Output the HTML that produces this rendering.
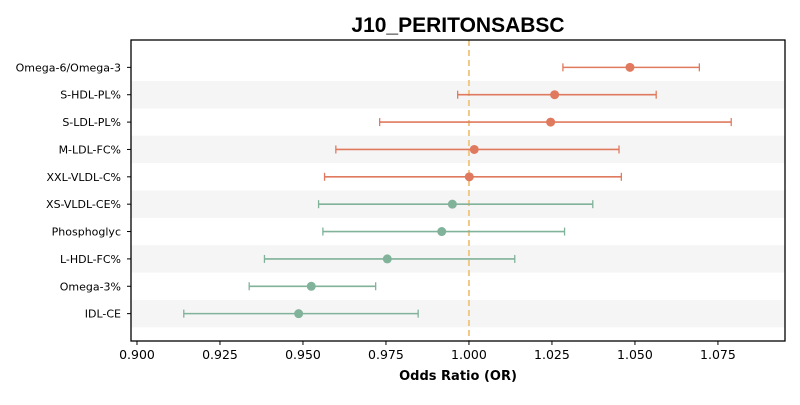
<!DOCTYPE html>
<html><head><meta charset="utf-8"><style>
body{margin:0;background:#fff;}
svg text{font-family:"DejaVu Sans","Liberation Sans",sans-serif;}
svg text.title{font-family:"Liberation Sans",sans-serif;}
</style></head><body>
<svg id="chart" width="800" height="400" xmlns="http://www.w3.org/2000/svg">
<text class="title" x="458" y="32" text-anchor="middle" font-weight="bold" font-size="21" fill="#000">J10_PERITONSABSC</text>
<g id="bands"></g>
<g id="marks"></g>
<rect x="131" y="40" width="654" height="301" fill="none" stroke="#000" stroke-width="1.3"/>
<g id="axes"></g>
<text x="458" y="380" text-anchor="middle" font-weight="bold" font-size="13" fill="#000">Odds Ratio (OR)</text>
</svg>
<script>
const labels=["Omega-6/Omega-3","S-HDL-PL%","S-LDL-PL%","M-LDL-FC%","XXL-VLDL-C%","XS-VLDL-CE%","Phosphoglyc","L-HDL-FC%","Omega-3%","IDL-CE"];
const orValues=[1.0485,1.0258,1.0246,1.0016,1.0001,0.9950,0.9918,0.9754,0.9525,0.9487];
const ciLow=[1.0283,0.9966,0.9731,0.9599,0.9565,0.9547,0.9560,0.9384,0.9338,0.9141];
const ciHigh=[1.0694,1.0564,1.0790,1.0452,1.0459,1.0373,1.0288,1.0138,0.9719,0.9847];
const xTicks=[0.900,0.925,0.950,0.975,1.000,1.025,1.050,1.075];
const refValue=1.0;
const NS="http://www.w3.org/2000/svg";
const xMin=0.8982,xMax=1.0952,pl=131,pr=785,pt=40,pb=341;
const x=v=>pl+(v-xMin)/(xMax-xMin)*(pr-pl);
const rowH=(pb-pt)/(labels.length+1);
const y=i=>pt+rowH*(i+1);
function mk(tag,attrs,parent){const e=document.createElementNS(NS,tag);for(const k in attrs)e.setAttribute(k,attrs[k]);document.getElementById(parent).appendChild(e);return e;}
labels.forEach((l,i)=>{
 if(i%2===1){const b=mk('rect',{x:pl,y:y(i)-rowH/2,width:pr-pl,height:rowH,fill:'#f5f5f5'},'bands');
 
 }
 const t=mk('text',{x:pl-10,y:y(i)+4,'text-anchor':'end','font-size':'11',fill:'#000'},'axes');t.textContent=l;
 
 
 const tk=mk('line',{x1:pl-4,x2:pl,y1:y(i),y2:y(i),stroke:'#000'},'axes');
 
 
});
const rl=mk('line',{x1:x(refValue),x2:x(refValue),y1:pt,y2:pb,stroke:'#f0c987','stroke-width':2,'stroke-dasharray':'6,4'},'marks');


labels.forEach((l,i)=>{
 const c=orValues[i]>refValue?'#e07a5f':'#81b29a';
 const yy=y(i);
 const ln=mk('line',{x1:x(ciLow[i]),x2:x(ciHigh[i]),y1:yy,y2:yy,stroke:c,'stroke-width':1.6},'marks');
 
 
 [ciLow[i],ciHigh[i]].forEach(v=>{const cap=mk('line',{x1:x(v),x2:x(v),y1:yy-4,y2:yy+4,stroke:c,'stroke-width':1.3},'marks');
 
 });
 const p=mk('circle',{cx:x(orValues[i]),cy:yy,r:4.5,fill:c},'marks');
 
 
});
xTicks.forEach(v=>{
 const tk=mk('line',{x1:x(v),x2:x(v),y1:pb,y2:pb+4,stroke:'#000'},'axes');
 
 
 const t=mk('text',{x:x(v),y:pb+18,'text-anchor':'middle','font-size':'12.5',fill:'#000'},'axes');t.textContent=v.toFixed(3);
 
 
});
</script>
</body></html>
